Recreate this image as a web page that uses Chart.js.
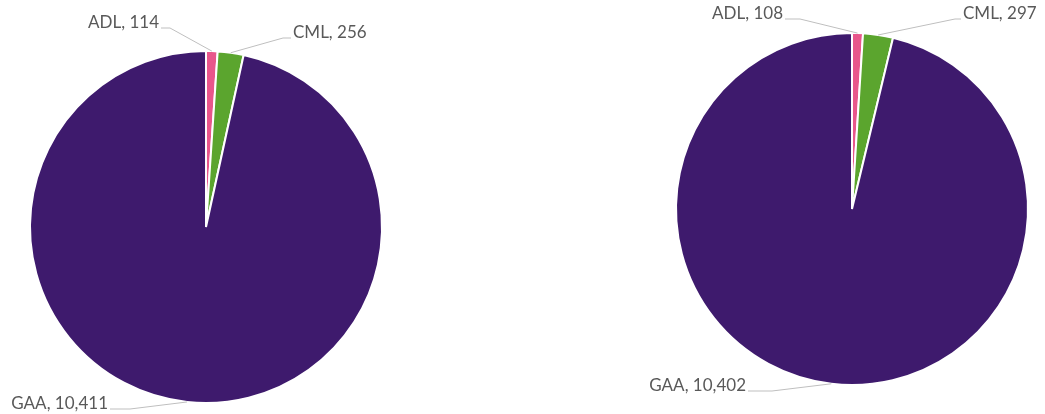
<!DOCTYPE html>
<html>
<head>
<meta charset="utf-8">
<script src="https://cdn.jsdelivr.net/npm/chart.js@4/dist/chart.umd.min.js"></script>
<style>
  html, body { margin: 0; padding: 0; background: #fff; }
  #wrap { position: relative; width: 1045px; height: 414px; overflow: hidden; }
  .box { position: absolute; top: 0; height: 414px; }
  #boxA { left: 0; width: 522px; }
  #boxB { left: 522px; width: 523px; }
</style>
</head>
<body>
<div id="wrap">
  <div class="box" id="boxA"><canvas id="pieA"></canvas></div>
  <div class="box" id="boxB"><canvas id="pieB"></canvas></div>
</div>
<script>
// Categories and counts for the two pies
const categories = ['ADL', 'CML', 'GAA'];
const valuesA = [114, 256, 10411];
const valuesB = [108, 297, 10402];
const sliceColors = ['#e8568b', '#5ba52e', '#3e1a6d'];

// Outside labels joined to their slice by a leader line.
// elbow: bend point relative to the pie centre; hook: horizontal tail length (sign = side)
const outsideLabels = {
  id: 'outsideLabels',
  afterDatasetsDraw(chart, args, opts) {
    const ctx = chart.ctx;
    const meta = chart.getDatasetMeta(0);
    const labels = chart.data.labels;
    const values = chart.data.datasets[0].data;
    ctx.save();
    ctx.font = opts.font;
    ctx.textBaseline = 'middle';
    meta.data.forEach((arc, i) => {
      const p = arc.getProps(['x', 'y', 'startAngle', 'endAngle', 'outerRadius'], true);
      const mid = (p.startAngle + p.endAngle) / 2;
      const sx = p.x + Math.cos(mid) * p.outerRadius;
      const sy = p.y + Math.sin(mid) * p.outerRadius;
      const lay = opts.layout[i];
      const ex = p.x + lay.elbow[0];
      const ey = p.y + lay.elbow[1];
      const tx = ex + lay.hook;
      ctx.strokeStyle = '#bfbfbf';
      ctx.lineWidth = 1;
      ctx.beginPath();
      ctx.moveTo(sx, sy);
      ctx.lineTo(ex, ey);
      ctx.lineTo(tx, ey);
      ctx.stroke();
      const text = labels[i] + ', ' + values[i].toLocaleString('en-US');
      ctx.fillStyle = '#595959';
      ctx.textAlign = lay.hook < 0 ? 'right' : 'left';
      ctx.fillText(text, tx + (lay.hook < 0 ? -2 : 2), ey - 5);
    });
    ctx.restore();
  }
};

function makePie(id, values, padding, layout) {
  return new Chart(document.getElementById(id), {
    type: 'pie',
    data: {
      labels: categories,
      datasets: [{
        data: values,
        backgroundColor: sliceColors,
        borderColor: '#ffffff',
        borderWidth: 2
      }]
    },
    options: {
      responsive: true,
      maintainAspectRatio: false,
      animation: false,
      layout: { padding: padding },
      plugins: {
        legend: { display: false },
        tooltip: { enabled: false },
        outsideLabels: { font: '17px Lato, "Open Sans", sans-serif', layout: layout }
      }
    },
    plugins: [outsideLabels]
  });
}

makePie('pieA', valuesA,
  { left: 29, top: 50, right: 139, bottom: 10 },
  [
    { elbow: [-36, -199], hook: -9 },
    { elbow: [77, -189], hook: 8 },
    { elbow: [-76, 182], hook: -20 }
  ]);

makePie('pieB', valuesB,
  { left: 153, top: 32, right: 16, bottom: 28 },
  [
    { elbow: [-52, -190], hook: -15 },
    { elbow: [103, -190], hook: 6 },
    { elbow: [-80, 182], hook: -24 }
  ]);
</script>
</body>
</html>
